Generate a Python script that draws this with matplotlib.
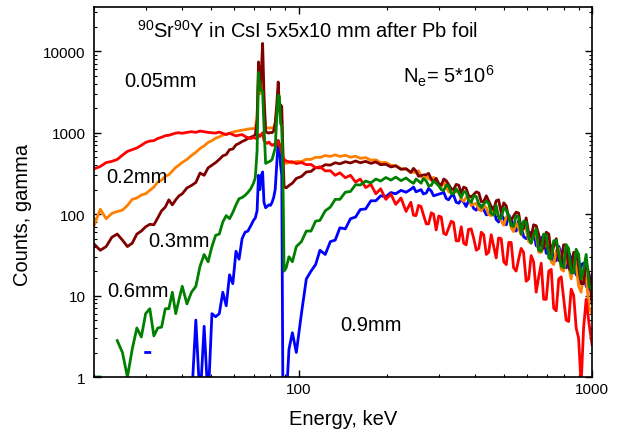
import numpy as np
import matplotlib
matplotlib.use('Agg')
import matplotlib.pyplot as plt
from matplotlib import ticker

plt.rcParams['font.family'] = ['Liberation Sans', 'DejaVu Sans']
plt.rcParams['mathtext.fontset'] = 'custom'
plt.rcParams['mathtext.rm'] = 'Liberation Sans'
plt.rcParams['mathtext.it'] = 'Liberation Sans:italic'

nan = np.nan

# energy channels, keV (low part, Pb K x-ray peaks, tail, extra tail channels)
e_low = [20, 21, 22, 23, 24, 25, 26, 27, 28, 29, 30, 31, 32, 33, 34, 35, 36, 37, 38, 39, 40,
         41.5, 43, 44.5, 46, 47.5, 49, 50.5, 52, 53.5, 55, 56.5, 58, 59.5, 61, 62.5, 64, 65.5,
         67, 68.5, 70]
e_peak = [71, 72, 72.8, 73.6, 74.4, 75.2, 76, 77, 78, 79, 80, 81, 82, 83, 84, 85, 85.8, 86.6,
          87.4, 88.2, 89, 90.5, 92.5]
e_tail = [95, 98, 102, 106, 110, 114, 118, 123, 128, 133, 138, 144, 150, 156, 162, 169, 176,
          183, 190, 198, 206, 214, 223, 232, 241, 251, 261, 272, 283, 294, 306, 318, 331, 344,
          358, 372, 387, 403, 419, 436, 453, 471, 490, 510, 530, 551, 573, 596, 620, 645, 671,
          698, 726, 755, 785, 816, 849, 883, 918, 955, 1000]
e_mid = [246, 256, 266, 277, 288, 300, 312, 324, 337, 351, 365, 379, 395, 411, 427, 444, 462,
         480, 500, 520, 540, 562, 584, 608, 632, 658, 684, 712, 740, 770, 800, 832, 866, 900,
         936, 977]

# counts for each Pb foil thickness (low + peak + tail), and at the extra channels
red_005 = [360, 385, 430, 445, 470, 530, 590, 620, 650, 700, 760, 790, 800, 850, 880, 920, 930,
           960, 990, 1000, 985, 1010, 1030, 1010, 1050, 1030, 1010, 1000, 990, 1020, 980, 950,
           985, 950, 915, 935, 950, 900, 870, 850, 870,
           860, 840, 950, 900, 950, 1000, 800, 760, 740, 770, 730, 700, 720, 690, 710, 800, 720,
           640, 560, 500, 470, 450, 440,
           440, 418, 432, 405, 408, 372, 382, 340, 342, 300, 322, 280, 300, 248, 270, 212, 232,
           178, 205, 152, 176, 132, 158, 108, 140, 96, 124, 76, 104, 64, 92, 56, 82, 47, 70, 42,
           66, 36, 60, 32, 56, 29, 50, 24, 45, 20, 38, 15, 31, 11, 25, 9, 21, 6.5, 17, 5, 12, 4,
           0.8, 9, 2.5]
red_005_mid = [97, 128, 98, 76, 100, 95, 58, 67, 79, 47, 44, 65, 50, 38, 56, 34, 40, 51, 26, 45,
               22, 28, 34, 16, 26, 17, 9, 20, 7, 16, 9.4, 4.8, 10, 3, 4, 4.5]

orange_02 = [72, 115, 88, 102, 108, 112, 128, 152, 158, 172, 178, 196, 215, 248, 262, 292, 305,
             338, 375, 400, 432, 470, 525, 575, 640, 690, 760, 800, 858, 890, 935, 960, 985,
             1020, 1040, 1060, 1075, 1090, 1110, 1120, 1125,
             1130, 1600, 5000, 3000, 4000, 6000, 1800, 1150, 1150, 1140, 1150, 1140, 1160, 1300,
             1800, 2600, 2000, 1600, 1400, 500, 440, 420, 430,
             425, 445, 442, 472, 470, 500, 496, 525, 512, 535, 512, 528, 500, 515, 485, 495, 460,
             465, 430, 432, 398, 395, 362, 358, 328, 322, 294, 288, 262, 252, 215, 222, 182, 188,
             152, 160, 128, 136, 110, 120, 96, 106, 82, 92, 68, 78, 56, 66, 44, 54, 34, 44, 26,
             36, 21, 30, 16, 24, 11, 17, 6]
orange_02_mid = [328, 341, 269, 275, 284, 223, 248, 189, 188, 187, 144, 158, 133, 114, 128, 99,
                 121, 94, 73, 96, 61, 67, 73, 46, 59, 34, 39, 45, 24, 38, 20, 23, 26, 13, 18, 7]

maroon_03 = [43, 36, 40, 52, 57, 48, 40, 44, 57, 62, 70, 75, 74, 90, 110, 122, 150, 130, 150, 168,
             178, 210, 225, 245, 320, 300, 370, 400, 430, 470, 520, 540, 620, 630, 710, 740, 780,
             810, 850, 880, 910,
             940, 1400, 7400, 3500, 5500, 12500, 3000, 1050, 1000, 990, 1010, 1000, 1050, 1300,
             2200, 4200, 2000, 2200, 2100, 600, 220, 210, 225,
             240, 275, 290, 330, 335, 372, 370, 405, 400, 428, 415, 440, 425, 450, 428, 445, 420,
             438, 405, 410, 380, 392, 355, 362, 325, 338, 298, 305, 268, 276, 228, 258, 205, 232,
             180, 208, 162, 188, 142, 168, 125, 146, 104, 126, 84, 106, 66, 90, 52, 72, 42, 60,
             32, 50, 26, 42, 20, 34, 14, 26, 8]
maroon_03_mid = [365, 292, 303, 317, 250, 237, 270, 232, 200, 227, 215, 170, 175, 182, 143, 145,
                 113, 150, 138, 88, 95, 103, 66, 59, 74, 56, 38, 57, 40, 27, 42, 22, 34, 23, 14,
                 18]

green_06 = [1.0, 1.0, nan, nan, 2.8, 2.0, 1.0, 2.2, 4.0, 3.1, 6.0, 6.9, 3.2, 4.0, 4.1, 6.9, 6.9,
            11, 6.0, 9, 13, 7.9, 11, 13, 23, 32, 26, 40, 55, 57, 80, 96, 88, 105, 130, 155, 160,
            170, 185, 205, 240,
            280, 600, 5500, 3600, 3300, 3200, 1200, 420, 430, 440, 450, 470, 550, 650, 1500,
            2900, 2800, 1300, 1200, 300, 20, 22, 30,
            26, 40, 46, 62, 62, 82, 84, 110, 122, 152, 152, 186, 190, 230, 228, 255, 242, 270,
            255, 282, 262, 285, 258, 278, 250, 270, 240, 256, 226, 240, 200, 226, 180, 205, 160,
            184, 140, 164, 120, 144, 102, 128, 88, 112, 72, 96, 57, 80, 44, 66, 35, 56, 28, 48,
            23, 42, 19, 37, 16, 32, 12]
green_06_mid = [239, 255, 273, 222, 255, 223, 196, 223, 178, 183, 190, 150, 168, 132, 133, 136,
                97, 91, 120, 92, 71, 91, 82, 51, 55, 36, 57, 29, 47, 33, 22, 38, 19, 32, 21, 13]

blue_09 = [nan, nan, nan, nan, nan, nan, nan, nan, nan, nan, 2, 2, nan, nan, nan, nan, nan, nan,
           nan, nan, nan, nan, 0.5, 5.0, 0.5, 4.2, 0.5, 6.0, 5.5, 6.0, 11, 7.5, 18, 14, 35, 28,
           50, 60, 62, 72, 84,
           90, 110, 300, 200, 300, 330, 140, 120, 125, 130, 128, 140, 160, 200, 400, 800, 700,
           400, 300, 0.5, 0.5, 0.5, 2.2,
           3.5, 2.0, 6, 16, 20, 24, 36, 32, 46, 48, 68, 66, 88, 92, 114, 116, 146, 146, 168, 164,
           184, 178, 196, 186, 202, 188, 200, 182, 192, 172, 180, 156, 168, 140, 152, 124, 138,
           112, 126, 98, 112, 86, 100, 74, 86, 62, 74, 50, 60, 41, 50, 33, 41, 27, 34, 22, 29,
           18, 24, 13, 18]
blue_09_mid = [215, 194, 177, 207, 168, 176, 186, 150, 172, 136, 140, 146, 117, 133, 114, 99,
               121, 80, 88, 98, 64, 83, 53, 57, 61, 39, 55, 38, 26, 40, 22, 34, 24, 17, 25, 12]

# drawing order as in the original
series = [(blue_09, blue_09_mid, '#0000FF'),
          (orange_02, orange_02_mid, '#FF8000'),
          (maroon_03, maroon_03_mid, '#800000'),
          (red_005, red_005_mid, '#FF0000'),
          (green_06, green_06_mid, '#008000')]

energy = np.array(e_low + e_peak + e_tail + e_mid, dtype=float)
order = np.argsort(energy, kind='stable')

fig = plt.figure(figsize=(6.17, 4.35), dpi=100)
ax = fig.add_axes([0.1524, 0.1310, 0.8071, 0.8506])

for counts, mids, color in series:
    y = np.array(counts + mids, dtype=float)
    ax.plot(energy[order], y[order], color=color, lw=2.0)

ax.set_xscale('log')
ax.set_yscale('log')
ax.set_xlim(20, 1000)
ax.set_ylim(1, 35000)

fmt = ticker.FuncFormatter(lambda v, _: f"{v:g}")
ax.xaxis.set_major_locator(ticker.FixedLocator([100, 1000]))
ax.xaxis.set_major_formatter(fmt)
ax.xaxis.set_minor_locator(ticker.LogLocator(base=10, subs=np.arange(2, 10)))
ax.xaxis.set_minor_formatter(ticker.NullFormatter())
ax.yaxis.set_major_locator(ticker.FixedLocator([1, 10, 100, 1000, 10000]))
ax.yaxis.set_major_formatter(fmt)
ax.yaxis.set_minor_locator(ticker.LogLocator(base=10, subs=np.arange(2, 10)))
ax.yaxis.set_minor_formatter(ticker.NullFormatter())

ax.tick_params(which='both', direction='in', top=True, right=True, labelsize=11)
ax.tick_params(which='major', length=5, width=1)
ax.tick_params(which='minor', length=2.5, width=0.8)
ax.tick_params(axis='y', pad=6)
for sp in ax.spines.values():
    sp.set_linewidth(1.2)

ax.set_xlabel('Energy, keV', fontsize=14.5)
ax.xaxis.set_label_coords(0.5, -0.0865)
ax.set_ylabel('Counts, gamma', fontsize=14.5)
ax.yaxis.set_label_coords(-0.1245, 0.4405)

ax.text(0.0863, 0.919, r'$^{90}$Sr$^{90}$Y in CsI 5x5x10 mm after Pb foil',
        transform=ax.transAxes, fontsize=14.5, va='baseline')
ax.text(0.6205, 0.7965, r'N$_\mathrm{e}$= 5*10$^6$', transform=ax.transAxes,
        fontsize=14.5, va='baseline')
ax.text(0.0602, 0.7856, '0.05mm', transform=ax.transAxes, fontsize=14.5, va='baseline')
ax.text(0.0255, 0.526, '0.2mm', transform=ax.transAxes, fontsize=14.5, va='baseline')
ax.text(0.1084, 0.353, '0.3mm', transform=ax.transAxes, fontsize=14.5, va='baseline')
ax.text(0.0261, 0.2198, '0.6mm', transform=ax.transAxes, fontsize=14.5, va='baseline')
ax.text(0.494, 0.128, '0.9mm', transform=ax.transAxes, fontsize=14.5, va='baseline')

fig.savefig('out.png', dpi=100)
